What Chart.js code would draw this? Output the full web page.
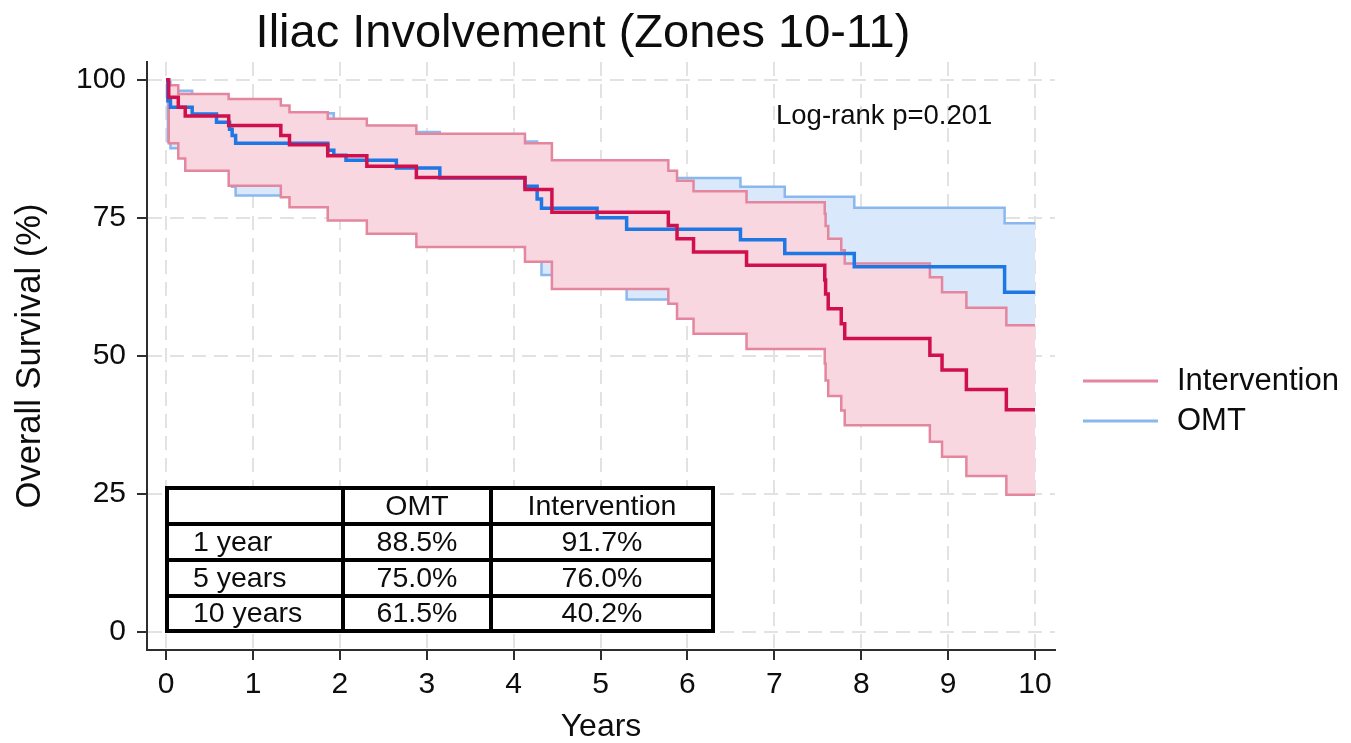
<!DOCTYPE html>
<html>
<head>
<meta charset="utf-8">
<title>Iliac Involvement (Zones 10-11)</title>
<script src="https://cdn.jsdelivr.net/npm/chart.js@4.4.1/dist/chart.umd.min.js"></script>
<style>
  html, body { margin: 0; padding: 0; background: #fff; }
  #wrap { width: 1351px; height: 743px; }
</style>
</head>
<body>
<div id="wrap"><canvas id="km-chart" width="1351" height="743"></canvas></div>
<script>
// ---- axis ticks ----
const yearTicks = [0, 1, 2, 3, 4, 5, 6, 7, 8, 9, 10];
const survTicks = [0, 25, 50, 75, 100];

// ---- OMT: Kaplan-Meier steps + 95% CI (years, %) ----
const omtTime  = [0, 0.02, 0.05, 0.30, 0.58, 0.73, 0.76, 0.80, 1.86, 1.93, 2.07, 2.65, 3.15, 4.13, 4.27, 4.32, 4.96, 5.30, 6.61, 7.12, 7.92, 9.65, 10];
const omtSurv  = [100, 96.2, 95.0, 93.8, 92.3, 91.0, 89.9, 88.5, 87.2, 86.3, 85.4, 84.0, 82.2, 80.7, 78.4, 76.7, 75.0, 72.9, 71.0, 68.5, 66.1, 61.5, 61.5];
const omtUpper = [100, 99.6, 98.0, 96.9, 95.8, 95.2, 94.6, 94.1, 93.9, 92.6, 91.6, 90.5, 89.2, 88.8, 87.0, 85.3, 84.0, 82.2, 80.6, 78.8, 76.8, 74.0, 74.0];
const omtLower = [100, 88.8, 87.6, 85.8, 84.2, 82.3, 80.6, 79.0, 77.5, 76.4, 75.3, 73.5, 71.4, 69.3, 67.2, 64.6, 62.4, 60.2, 57.8, 55.4, 53.0, 47.0, 47.0];

// ---- Intervention ----
const intTime  = [0, 0.03, 0.14, 0.22, 0.72, 1.32, 1.42, 1.86, 2.31, 2.88, 4.13, 4.44, 5.78, 5.88, 6.07, 6.68, 7.58, 7.59, 7.62, 7.77, 7.81, 8.79, 8.93, 9.21, 9.67, 10];
const intSurv  = [100, 96.8, 95.0, 93.4, 91.7, 89.9, 88.2, 86.2, 84.3, 82.3, 80.1, 76.0, 73.6, 71.2, 68.8, 66.4, 63.7, 61.2, 58.5, 55.8, 53.1, 50.1, 47.4, 43.9, 40.2, 40.2];
const intUpper = [100, 99.0, 97.4, 97.4, 96.5, 95.3, 94.1, 92.9, 91.7, 90.2, 88.5, 85.4, 83.5, 81.7, 79.8, 77.8, 75.7, 73.5, 71.2, 69.1, 66.7, 64.2, 61.5, 58.7, 55.5, 55.5];
const intLower = [100, 88.5, 85.7, 83.5, 80.8, 78.7, 76.9, 74.5, 72.1, 69.7, 67.0, 62.1, 59.4, 56.7, 54.0, 51.2, 48.6, 45.5, 42.7, 40.1, 37.4, 34.4, 31.7, 28.2, 24.8, 24.8];

// ---- survival table ----
const tableHead = ['', 'OMT', 'Intervention'];
const tableRows = ['1 year', '5 years', '10 years'];
const tableOmt  = ['88.5%', '75.0%', '61.5%'];
const tableInt  = ['91.7%', '76.0%', '40.2%'];

const logRankText = 'Log-rank p=0.201';
const legendNames = ['Intervention', 'OMT'];

const FONT = "'Liberation Sans', Arial, Helvetica, sans-serif";
const COL = {
    int: '#d0104c', intCi: '#e3869e', intFill: '#f8d7e1',
    omt: '#1f77e4', omtCi: '#8ab8ee', omtFill: '#d9e8fb',
    grid: '#e2e2e2', axis: '#2e2e2e', text: '#0d0d0d'
};

const pts = (xs, ys) => xs.map((x, i) => ({ x: x, y: ys[i] }));

function stepLine(data, color, width, order, extra) {
    return Object.assign({
        data: data,
        stepped: true,
        borderColor: color,
        borderWidth: width,
        pointRadius: 0,
        pointHoverRadius: 0,
        fill: false,
        order: order
    }, extra || {});
}

// texts, legend and the little results table
const overlay = {
    id: 'overlay',
    afterDraw(chart) {
        const ctx = chart.ctx;
        ctx.save();
        ctx.fillStyle = COL.text;
        ctx.textBaseline = 'middle';

        // title
        ctx.font = '47px ' + FONT;
        ctx.textAlign = 'center';
        ctx.fillText('Iliac Involvement (Zones 10-11)', 583, 34);

        // log-rank
        ctx.font = '27.5px ' + FONT;
        ctx.textAlign = 'left';
        ctx.fillText(logRankText, 776, 116);

        // legend
        const legCols = [COL.intCi, COL.omtCi];
        const legY = [381, 421];
        ctx.lineWidth = 3;
        legendNames.forEach((name, i) => {
            ctx.strokeStyle = legCols[i];
            ctx.beginPath();
            ctx.moveTo(1083, legY[i]);
            ctx.lineTo(1158, legY[i]);
            ctx.stroke();
            ctx.font = '31px ' + FONT;
            ctx.fillText(name, 1177, legY[i]);
        });

        // table
        const tx = [167, 343, 491, 713];
        const ty = [488, 524, 560, 596, 631];
        ctx.fillStyle = '#ffffff';
        ctx.fillRect(tx[0], ty[0], tx[3] - tx[0], ty[4] - ty[0]);
        ctx.strokeStyle = '#000000';
        ctx.lineWidth = 4;
        ctx.beginPath();
        tx.forEach(x => { ctx.moveTo(x, ty[0] - 2); ctx.lineTo(x, ty[4] + 2); });
        ty.forEach(y => { ctx.moveTo(tx[0] - 2, y); ctx.lineTo(tx[3] + 2, y); });
        ctx.stroke();

        ctx.fillStyle = COL.text;
        ctx.font = '28.5px ' + FONT;
        const mid = (a, b) => (a + b) / 2;
        ctx.textAlign = 'center';
        ctx.fillText(tableHead[1], mid(tx[1], tx[2]), mid(ty[0], ty[1]) + 1);
        ctx.fillText(tableHead[2], mid(tx[2], tx[3]), mid(ty[0], ty[1]) + 1);
        tableRows.forEach((r, i) => {
            const y = mid(ty[i + 1], ty[i + 2]) + 1;
            ctx.textAlign = 'left';
            ctx.fillText(r, 193, y);
            ctx.textAlign = 'center';
            ctx.fillText(tableOmt[i], mid(tx[1], tx[2]), y);
            ctx.fillText(tableInt[i], mid(tx[2], tx[3]), y);
        });
        ctx.restore();
    }
};

const axisCommon = {
    type: 'linear',
    grid: {
        color: COL.grid, lineWidth: 2,
        drawTicks: true, tickLength: 10, tickColor: COL.axis, tickWidth: 2
    },
    border: { display: true, color: COL.axis, width: 2, dash: [14, 8] }
};

new Chart(document.getElementById('km-chart'), {
    type: 'line',
    data: {
        datasets: [
            // CI bands first (drawn underneath), OMT below Intervention
            stepLine(pts(omtTime, omtUpper), COL.omtCi, 2.5, 6, { fill: 1, backgroundColor: COL.omtFill }),
            stepLine(pts(omtTime, omtLower), COL.omtCi, 2.5, 5),
            stepLine(pts(intTime, intUpper), COL.intCi, 2.5, 4, { fill: 3, backgroundColor: COL.intFill }),
            stepLine(pts(intTime, intLower), COL.intCi, 2.5, 3),
            stepLine(pts(omtTime, omtSurv), COL.omt, 3.5, 2),
            stepLine(pts(intTime, intSurv), COL.int, 3.5, 1)
        ]
    },
    options: {
        responsive: false,
        animation: false,
        events: [],
        layout: { padding: { top: 62, right: 296, bottom: 0, left: 0 } },
        plugins: { legend: { display: false }, tooltip: { enabled: false }, title: { display: false } },
        scales: {
            x: Object.assign({}, axisCommon, {
                min: -0.22, max: 10.23,
                afterBuildTicks: s => { s.ticks = yearTicks.map(v => ({ value: v })); },
                afterFit: s => { s.height = 93; },
                ticks: { font: { size: 30, family: FONT }, color: COL.text, padding: 7, maxRotation: 0, autoSkip: false },
                title: { display: true, text: 'Years', color: COL.text, font: { size: 32, family: FONT, lineHeight: 1 }, padding: { top: 0, bottom: 0 } }
            }),
            y: Object.assign({}, axisCommon, {
                min: -3.3, max: 103.2,
                afterBuildTicks: s => { s.ticks = survTicks.map(v => ({ value: v })); },
                afterFit: s => { s.width = 147; },
                ticks: { font: { size: 30, family: FONT }, color: COL.text, padding: 11 },
                title: { display: true, text: 'Overall Survival (%)', color: COL.text, font: { size: 34.5, family: FONT, lineHeight: 1 }, padding: { top: 13, bottom: 0 } }
            })
        }
    },
    plugins: [overlay]
});
</script>
</body>
</html>
